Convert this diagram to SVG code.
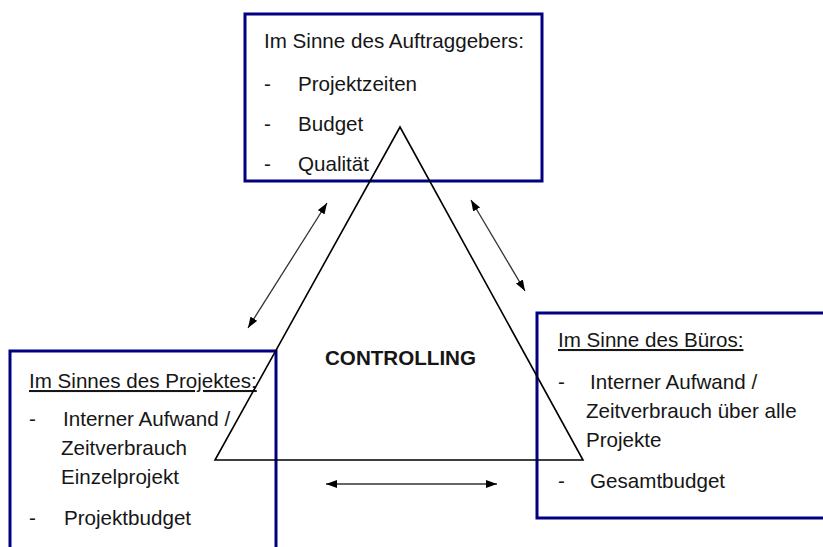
<svg xmlns="http://www.w3.org/2000/svg" width="823" height="547" viewBox="0 0 823 547">
  <style>
    .box { fill: none; stroke: #000080; stroke-width: 3; }
    .t { font-family: "Liberation Sans", Arial, sans-serif; font-size: 20.6px; fill: #161616; }
    .u { text-decoration: underline; }
    .tri { fill: none; stroke: #000; stroke-width: 1.6; stroke-linejoin: miter; }
    .arr { stroke: #333; stroke-width: 1.3; marker-start: url(#ah); marker-end: url(#ah); }
  </style>
  <defs>
    <marker id="ah" markerUnits="userSpaceOnUse" markerWidth="12" markerHeight="10" refX="11" refY="4" orient="auto-start-reverse">
      <path d="M0,0 L11,4 L0,8 z" fill="#000"/>
    </marker>
  </defs>
  <rect width="823" height="547" fill="#fff"/>

  <!-- client's perspective -->
  <g id="auftraggeber">
    <rect class="box" x="245" y="14" width="297" height="167"/>
    <text class="t" x="264" y="48">Im Sinne des Auftraggebers:</text>
    <text class="t" x="264" y="91">-</text>
    <text class="t" x="298" y="91">Projektzeiten</text>
    <text class="t" x="264" y="131">-</text>
    <text class="t" x="298" y="131">Budget</text>
    <text class="t" x="264" y="171">-</text>
    <text class="t" x="298" y="171">Qualität</text>
  </g>

  <!-- project perspective -->
  <g id="projekt">
    <rect class="box" x="10" y="351" width="266" height="210"/>
    <text class="t u" x="29" y="388">Im Sinnes des Projektes:</text>
    <text class="t" x="29" y="426">-</text>
    <text class="t" x="63" y="426">Interner Aufwand /</text>
    <text class="t" x="61" y="455">Zeitverbrauch</text>
    <text class="t" x="61" y="484">Einzelprojekt</text>
    <text class="t" x="29" y="525">-</text>
    <text class="t" x="64" y="525">Projektbudget</text>
  </g>

  <!-- office perspective -->
  <g id="buero">
    <rect class="box" x="537" y="313" width="300" height="205"/>
    <text class="t u" x="558" y="347">Im Sinne des Büros:</text>
    <text class="t" x="558" y="389">-</text>
    <text class="t" x="590" y="389">Interner Aufwand /</text>
    <text class="t" x="586" y="418">Zeitverbrauch über alle</text>
    <text class="t" x="586" y="447">Projekte</text>
    <text class="t" x="558" y="488">-</text>
    <text class="t" x="590" y="488">Gesamtbudget</text>
  </g>

  <!-- central triangle -->
  <g id="controlling">
    <polygon class="tri" points="400,127 583,460 215,460"/>
    <text class="t" x="325" y="365" font-size="20" font-weight="bold">CONTROLLING</text>
  </g>

  <!-- two-way relations -->
  <g id="connectors">
    <line class="arr" x1="248" y1="328" x2="327" y2="203"/>
    <line class="arr" x1="471" y1="200" x2="525" y2="291"/>
    <line class="arr" x1="326" y1="484" x2="497" y2="484"/>
  </g>
</svg>
